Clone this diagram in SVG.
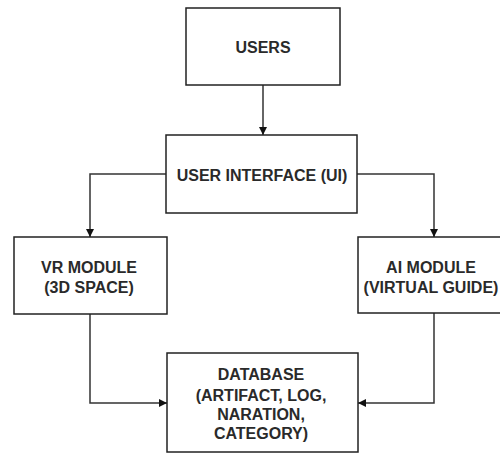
<svg xmlns="http://www.w3.org/2000/svg" width="500" height="454" viewBox="0 0 500 454">
<style>
.box{fill:#fff;stroke:#222;stroke-width:1.5}
.lbl{font-family:"Liberation Sans",Arial,sans-serif;font-weight:bold;font-size:16px;fill:#2a2a2a;text-anchor:middle}
.con{fill:none;stroke:#333;stroke-width:1.5}
</style>
<defs>
<marker id="ah" viewBox="0 0 10 10" refX="10" refY="5" markerWidth="8" markerHeight="8" markerUnits="userSpaceOnUse" orient="auto">
<path d="M0,0 L10,5 L0,10 Z" fill="#111"/>
</marker>
</defs>
<rect width="500" height="454" fill="#fff"/>
<g id="connectors">
<path class="con" d="M263,85 V135" marker-end="url(#ah)"/>
<path class="con" d="M166,174 H90 V237" marker-end="url(#ah)"/>
<path class="con" d="M357,174 H434 V237" marker-end="url(#ah)"/>
<path class="con" d="M90,314 V403 H167" marker-end="url(#ah)"/>
<path class="con" d="M434,313 V403 H358" marker-end="url(#ah)"/>
</g>
<g id="users">
<rect class="box" x="186" y="8" width="154" height="77"/>
<text class="lbl" x="263" y="53">USERS</text>
</g>
<g id="ui">
<rect class="box" x="166" y="135" width="191" height="78"/>
<text class="lbl" x="262" y="181">USER INTERFACE (UI)</text>
</g>
<g id="vr">
<rect class="box" x="14" y="237" width="153" height="77"/>
<text class="lbl" x="89" y="273">VR MODULE</text>
<text class="lbl" x="89" y="293">(3D SPACE)</text>
</g>
<g id="ai">
<rect class="box" x="358" y="237" width="150" height="76"/>
<text class="lbl" x="431" y="273">AI MODULE</text>
<text class="lbl" x="431" y="293">(VIRTUAL GUIDE)</text>
</g>
<g id="db">
<rect class="box" x="167" y="353" width="191" height="99"/>
<text class="lbl" x="261" y="380">DATABASE</text>
<text class="lbl" x="261" y="401">(ARTIFACT, LOG,</text>
<text class="lbl" x="261" y="420">NARATION,</text>
<text class="lbl" x="261" y="439">CATEGORY)</text>
</g>
</svg>
